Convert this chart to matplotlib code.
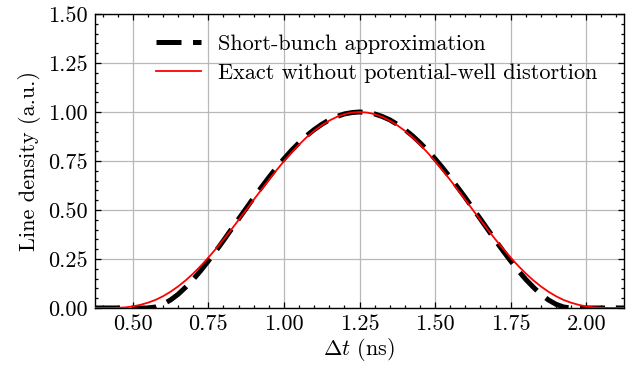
import matplotlib
matplotlib.use("Agg")
import matplotlib.pyplot as plt
from matplotlib.ticker import MultipleLocator

# time axis (ns) and the two line-density profiles
dt = [0.375, 0.400, 0.425, 0.450, 0.475, 0.500, 0.525, 0.550, 0.575, 0.600,
      0.625, 0.650, 0.675, 0.700, 0.725, 0.750, 0.775, 0.800, 0.825, 0.850,
      0.875, 0.900, 0.925, 0.950, 0.975, 1.000, 1.025, 1.050, 1.075, 1.100,
      1.125, 1.150, 1.175, 1.200, 1.225, 1.250, 1.275, 1.300, 1.325, 1.350,
      1.375, 1.400, 1.425, 1.450, 1.475, 1.500, 1.525, 1.550, 1.575, 1.600,
      1.625, 1.650, 1.675, 1.700, 1.725, 1.750, 1.775, 1.800, 1.825, 1.850,
      1.875, 1.900, 1.925, 1.950, 1.975, 2.000, 2.025, 2.050, 2.075, 2.100,
      2.125]

short_bunch = [0.000, 0.000, 0.000, 0.000, 0.000, 0.000, 0.000, 0.000, 0.005, 0.019,
               0.041, 0.070, 0.106, 0.146, 0.191, 0.240, 0.291, 0.344, 0.399, 0.454,
               0.508, 0.563, 0.615, 0.666, 0.715, 0.761, 0.804, 0.843, 0.879, 0.910,
               0.937, 0.960, 0.977, 0.990, 0.997, 1.000, 0.997, 0.990, 0.977, 0.960,
               0.937, 0.910, 0.879, 0.843, 0.804, 0.761, 0.715, 0.666, 0.615, 0.563,
               0.508, 0.454, 0.399, 0.344, 0.291, 0.240, 0.191, 0.146, 0.106, 0.070,
               0.041, 0.019, 0.005, 0.000, 0.000, 0.000, 0.000, 0.000, 0.000, 0.000,
               0.000]

exact = [0.000, 0.000, 0.000, 0.001, 0.003, 0.008, 0.016, 0.027, 0.041, 0.060,
         0.083, 0.110, 0.141, 0.176, 0.215, 0.257, 0.302, 0.349, 0.398, 0.449,
         0.500, 0.552, 0.603, 0.653, 0.702, 0.749, 0.793, 0.833, 0.871, 0.904,
         0.932, 0.956, 0.975, 0.989, 0.997, 1.000, 0.997, 0.989, 0.975, 0.956,
         0.932, 0.904, 0.871, 0.833, 0.793, 0.749, 0.702, 0.653, 0.603, 0.552,
         0.500, 0.449, 0.398, 0.349, 0.302, 0.257, 0.215, 0.176, 0.141, 0.110,
         0.083, 0.060, 0.041, 0.027, 0.016, 0.008, 0.003, 0.001, 0.000, 0.000,
         0.000]

plt.rcParams['font.family'] = 'serif'
plt.rcParams['font.serif'] = ['cmr10', 'DejaVu Serif']
plt.rcParams['mathtext.fontset'] = 'cm'
plt.rcParams['axes.formatter.use_mathtext'] = True
plt.rcParams['font.size'] = 16

fig = plt.figure(figsize=(6.35, 3.67), dpi=100)
ax = fig.add_axes([0.1496, 0.1608, 0.8331, 0.8011])

ax.plot(dt, short_bunch, color='black', lw=3.6, ls=(0, (5, 2.3)),
        label='Short-bunch approximation', zorder=3)
ax.plot(dt, exact, color='red', lw=1.3,
        label='Exact without potential-well distortion', zorder=4)

ax.set_xlim(0.375, 2.125)
ax.set_ylim(0, 1.5)
ax.xaxis.set_major_locator(MultipleLocator(0.25))
ax.xaxis.set_minor_locator(MultipleLocator(0.05))
ax.yaxis.set_major_locator(MultipleLocator(0.25))
ax.yaxis.set_minor_locator(MultipleLocator(0.05))
ax.xaxis.set_major_formatter(matplotlib.ticker.FormatStrFormatter('%.2f'))
ax.yaxis.set_major_formatter(matplotlib.ticker.FormatStrFormatter('%.2f'))

ax.tick_params(which='both', direction='in', top=True, right=True, width=0.9)
ax.tick_params(which='major', length=4.5, pad=5)
ax.tick_params(which='minor', length=2.3)
for s in ax.spines.values():
    s.set_linewidth(1.0)

ax.grid(True, which='major', color='#b8b8b8', lw=0.9, zorder=0)

ax.set_xlabel(r'$\Delta t$ (ns)', labelpad=1)
ax.set_ylabel('Line density (a.u.)', labelpad=5)

ax.legend(loc='upper left', bbox_to_anchor=(0.082, 0.99), frameon=False,
          handlelength=2.0, handletextpad=0.8, labelspacing=0.42,
          borderpad=0.3)

fig.savefig('out.png', dpi=100)
